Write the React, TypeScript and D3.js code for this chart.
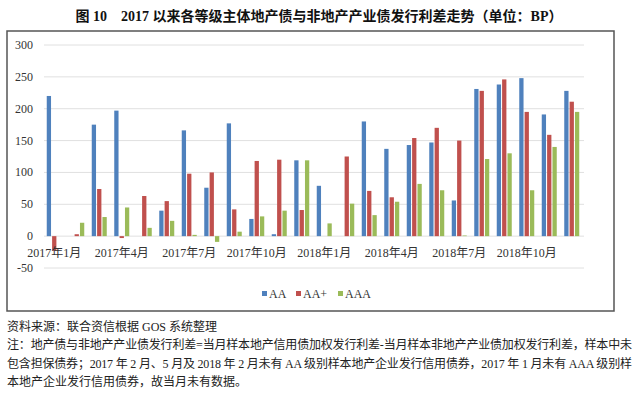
import React from 'react';
import * as d3 from 'd3';

const months = [
  '2017-01', '2017-02', '2017-03', '2017-04', '2017-05', '2017-06',
  '2017-07', '2017-08', '2017-09', '2017-10', '2017-11', '2017-12',
  '2018-01', '2018-02', '2018-03', '2018-04', '2018-05', '2018-06',
  '2018-07', '2018-08', '2018-09', '2018-10', '2018-11', '2018-12',
];
const monthLabels = ['2017年1月', '', '', '2017年4月', '', '', '2017年7月', '', '', '2017年10月', '', '',
  '2018年1月', '', '', '2018年4月', '', '', '2018年7月', '', '', '2018年10月', '', ''];

const seriesNames = ['AA', 'AA+', 'AAA'];
const seriesColors = ['#4f81bd', '#c0504d', '#9bbb59'];

const aa = [220, null, 175, 197, null, 40, 166, 76, 177, 27, 3, 119, 79, null, 180, 137, 143, 147, 56, 231, 238, 248, 191, 228];
const aaPlus = [-23, 3, 74, -3, 63, 55, 98, 100, 42, 118, 120, 41, 0, 125, 71, 61, 154, 170, 150, 228, 246, 195, 159, 211];
const aaa = [null, 21, 30, 45, 13, 24, 2, -9, 7, 31, 40, 119, 20, 51, 33, 54, 82, 72, 1, 121, 130, 72, 140, 195];

const yTicks = [-50, 0, 50, 100, 150, 200, 250, 300];

const title = '图 10　2017 以来各等级主体地产债与非地产产业债发行利差走势（单位：BP）';
const source = '资料来源：联合资信根据 GOS 系统整理';
const notes = [
  '注：地产债与非地产产业债发行利差=当月样本地产信用债加权发行利差-当月样本非地产产业债加权发行利差，样本中未',
  '包含担保债券；2017 年 2 月、5 月及 2018 年 2 月未有 AA 级别样本地产企业发行信用债券，2017 年 1 月未有 AAA 级别样',
  '本地产企业发行信用债券，故当月未有数据。',
];

const FONT = "'Liberation Serif', 'Times New Roman', 'Noto Sans CJK SC', serif";

export default function App() {
  const W = 640;
  const H = 395;
  const values = [aa, aaPlus, aaa];

  const x0 = d3.scaleBand<string>().domain(months).range([43, 583]).paddingInner(0);
  const x1 = d3.scaleBand<string>().domain(seriesNames).range([-7.5, 7.5]).paddingInner(0.2);
  const y = d3.scaleLinear().domain([-50, 300]).range([268, 45]);

  const legendX = [262, 296, 338];

  return (
    <svg width={W} height={H} style={{ position: 'absolute', left: 0, top: 0, background: '#fff' }} fontFamily={FONT}>
      <rect x={0} y={0} width={W} height={H} fill="#fff" />
      <text x={319} y={16} textAnchor="middle" dominantBaseline="central" fontSize={14} fontWeight="bold" fill="#111">
        {title}
      </text>

      {/* chart frame */}
      <rect x={7} y={31} width={607} height={280} fill="#fff" stroke="#555" strokeWidth={1.5} />

      {/* grid */}
      {yTicks.map(t => (
        <g key={t}>
          <line x1={44} x2={584} y1={y(t)} y2={y(t)} stroke="#e0e0e0" strokeWidth={1} />
          <text x={33} y={y(t)} textAnchor="end" dominantBaseline="central" fontSize={12} fill="#333">{t}</text>
        </g>
      ))}

      {/* bars */}
      {values.map((vals, si) => (
        <g key={seriesNames[si]} fill={seriesColors[si]}>
          {vals.map((v, i) => {
            if (v === null || v === 0) return null;
            const cx = (x0(months[i]) || 0) + x0.bandwidth() / 2;
            const bx = cx + (x1(seriesNames[si]) || 0);
            return (
              <rect key={i} x={bx} width={x1.bandwidth()}
                y={Math.min(y(v), y(0))} height={Math.abs(y(v) - y(0))} />
            );
          })}
        </g>
      ))}

      {/* x labels */}
      {monthLabels.map((l, i) => l ? (
        <text key={i} x={(x0(months[i]) || 0) + x0.bandwidth() / 2} y={253} textAnchor="middle"
          dominantBaseline="central" fontSize={12} fill="#333">{l}</text>
      ) : null)}

      {/* legend */}
      {seriesNames.map((s, i) => (
        <g key={s}>
          <rect x={legendX[i]} y={291} width={5} height={5} fill={seriesColors[i]} />
          <text x={legendX[i] + 7} y={294} dominantBaseline="central" fontSize={12} fill="#333">{s}</text>
        </g>
      ))}

      {/* source & notes */}
      <text x={7} y={327} dominantBaseline="central" fontSize={12} fill="#222">{source}</text>
      {notes.map((n, i) => (
        <text key={i} x={7} y={345 + i * 18.5} dominantBaseline="central" fontSize={12} fill="#222"
          {...(i < 2 ? { textLength: 625, lengthAdjust: 'spacing' } : {})}>{n}</text>
      ))}
    </svg>
  );
}
